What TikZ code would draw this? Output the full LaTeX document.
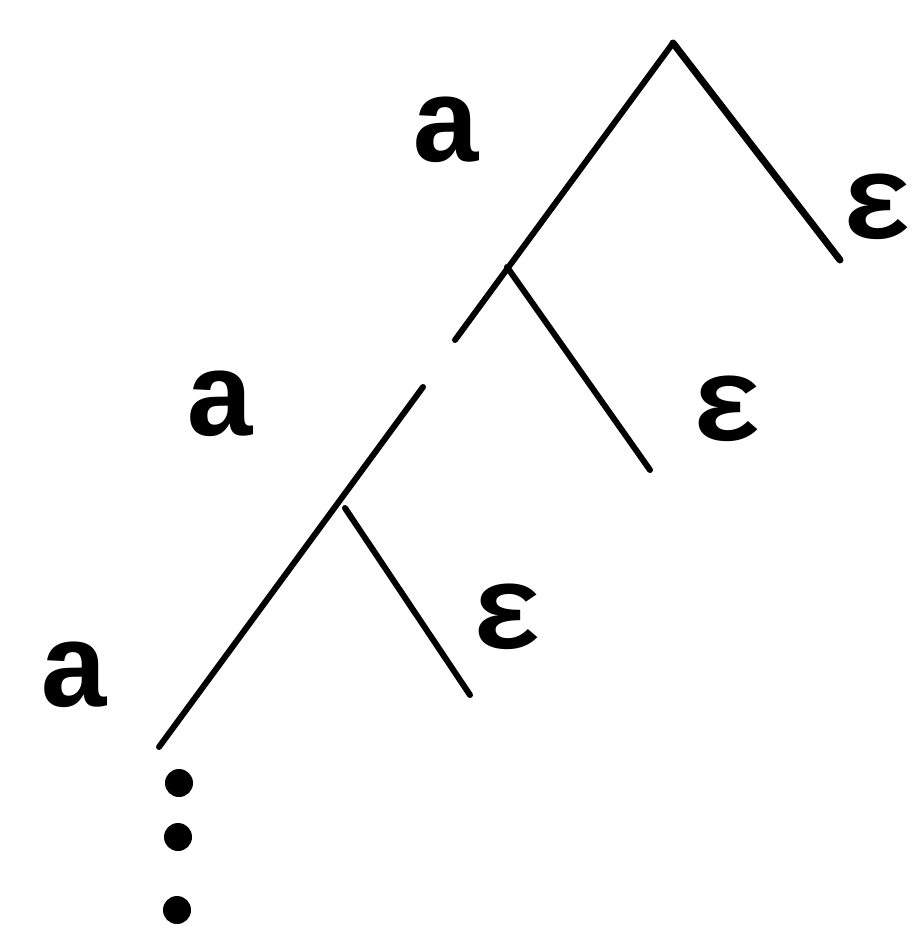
\documentclass[tikz,border=0pt]{standalone}
\usepackage{fontspec}
\newfontfamily\treefont{Liberation Mono}
\tikzset{
  edge/.style={line width=6pt, line cap=round, black},
  lbl/.style={inner sep=0pt, font=\treefont\bfseries\fontsize{120}{120}\selectfont},
  dotnode/.style={circle, fill=black, inner sep=0pt, minimum size=28pt},
}
\begin{document}
\begin{tikzpicture}[x=1pt,y=-1pt]
\useasboundingbox (0,0) rectangle (915,934);
% tree points
\coordinate (T) at (673,43);
\coordinate (R1) at (840,260);
\coordinate (B1) at (507,267);
\coordinate (G1) at (455,340);
\coordinate (G2) at (423,387);
\coordinate (B2) at (345,508);
\coordinate (E1) at (650,470);
\coordinate (E2) at (470,695);
\coordinate (L) at (159,747);
% edges
\draw[edge, line width=7pt] (T) -- (R1);
\draw[edge] (T) -- (G1);
\draw[edge] (G2) -- (L);
\draw[edge] (B1) -- (E1);
\draw[edge] (B2) -- (E2);
% labels
\node[lbl] (a1) at (446,130) {a};
\node[lbl] (a2) at (221,404) {a};
\node[lbl] (a3) at (75,675) {a};
\node[lbl] (e1) at (877,207) {ε};
\node[lbl] (e2) at (727,409) {ε};
\node[lbl] (e3) at (507,617) {ε};
% dots
\node[dotnode] (d1) at (179,783) {};
\node[dotnode] (d2) at (178,837) {};
\node[dotnode] (d3) at (177,910) {};
\end{tikzpicture}
\end{document}
